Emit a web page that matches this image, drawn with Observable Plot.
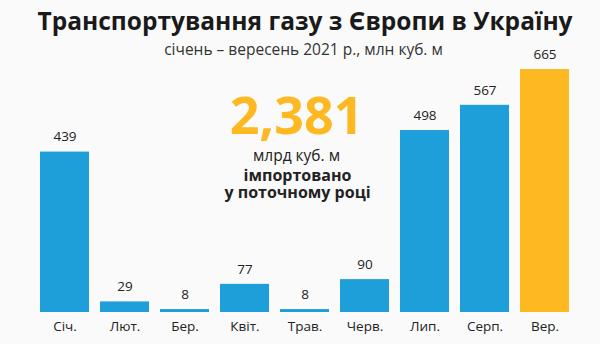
<!DOCTYPE html>
<html>
<head>
<meta charset="utf-8">
<script src="https://cdn.jsdelivr.net/npm/d3@7"></script>
<script src="https://cdn.jsdelivr.net/npm/@observablehq/plot@0.6"></script>
<style>
  html, body { margin: 0; padding: 0; background: #fafafa; width: 600px; height: 344px; overflow: hidden; }
  body { font-family: "Open Sans", sans-serif; }
  #header { position: relative; height: 60px; margin-bottom: -16px; text-align: center; }
  #title { position: absolute; left: 10px; right: 0; top: 4px; font-size: 24.5px; font-weight: 700; color: #1a1a1a; line-height: 34px; margin: 0; }
  #subtitle { position: absolute; left: 7px; right: 0; top: 38px; font-size: 15.5px; color: #333; line-height: 22px; margin: 0; }
  #chart { position: relative; }
  #chart svg { background: transparent; display: block; }
</style>
</head>
<body>
<div id="header">
  <div id="title">Транспортування газу з Європи в Україну</div>
  <div id="subtitle">січень – вересень 2021 р., млн куб. м</div>
</div>
<div id="chart"></div>
<script>
const months = ["Січ.", "Лют.", "Бер.", "Квіт.", "Трав.", "Черв.", "Лип.", "Серп.", "Вер."];
const values = [439, 29, 8, 77, 8, 90, 498, 567, 665];
const highlight = ["Вер."];
const totalText = "2,381";
const noteLines = ["млрд куб. м", "імпортовано", "у поточному році"];

const data = months.map((m, i) => ({ month: m, value: values[i], hl: highlight.includes(m) }));

const plot = Plot.plot({
  width: 600,
  height: 300,
  marginLeft: 26,
  marginRight: 16,
  marginTop: 25,
  marginBottom: 32,
  style: { background: "transparent", fontFamily: "Open Sans, sans-serif" },
  x: { domain: months, padding: 0.18, axis: null },
  y: { domain: [0, 665], axis: null },
  marks: [
    Plot.barY(data, { x: "month", y: "value", fill: d => d.hl ? "#fdb822" : "#1f9fd9" }),
    Plot.text(data, { x: "month", y: "value", text: d => String(d.value), dy: -15, fontSize: 13.5, fill: "#222", lineAnchor: "middle" }),
    Plot.text(data, { x: "month", frameAnchor: "bottom", lineAnchor: "middle", text: "month", dy: 14, fontSize: 13.5, fill: "#222" }),
    Plot.text([totalText], { text: d => d, frameAnchor: "top", lineAnchor: "middle", dx: -9, dy: 48, fontSize: 52, fontWeight: 700, fill: "#fdb822" }),
    Plot.text([noteLines[0]], { text: d => d, frameAnchor: "top", lineAnchor: "middle", dx: -9, dy: 87, fontSize: 15.5, fill: "#222" }),
    Plot.text([noteLines[1]], { text: d => d, frameAnchor: "top", lineAnchor: "middle", dx: -8, dy: 106, fontSize: 16, fontWeight: 700, fill: "#222" }),
    Plot.text([noteLines[2]], { text: d => d, frameAnchor: "top", lineAnchor: "middle", dx: -8, dy: 123, fontSize: 16, fontWeight: 700, fill: "#222" })
  ]
});
document.getElementById("chart").appendChild(plot);
</script>
</body>
</html>
